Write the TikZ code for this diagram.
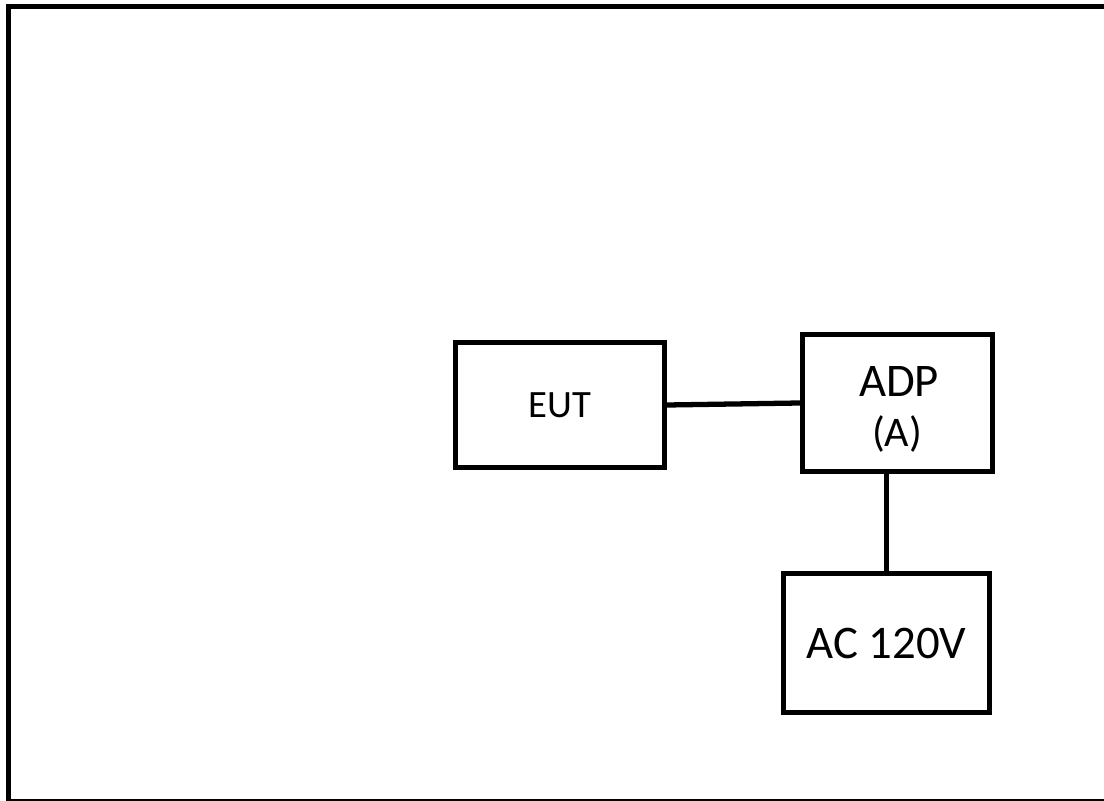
\documentclass[tikz,border=0pt]{standalone}
\usepackage{fontspec}
\setmainfont{Carlito}
\usepackage{tikz}
\usetikzlibrary{positioning}
\tikzset{
	wire/.append style={
		line width=1.5pt,
	},
	unit/.append style={
		draw,
		line width=1.5pt,
		align = center,
		inner sep=0mm,
		font={\fontsize{11}{13}\selectfont},
	},
	bigtext/.append style={
		font={\fontsize{13.3}{15}\selectfont},
	},
	smalltext/.append style={
		inner sep=0mm,
		font={\fontsize{12}{14}\selectfont},
	}
}

\begin{document}
\begin{tikzpicture}[]

\useasboundingbox (0,0) rectangle (11.04,8);
\clip (0,0) rectangle (11.04,8);
% outer frame, cut off on the right
\draw[wire] (11.1,7.935) -- (0.085,7.935) -- (0.085,-0.015) -- (11.1,-0.015);

\node(eut)[unit, minimum width=20.9mm, minimum height=12.5mm] at (5.60,3.95) {EUT};
\node(adp)[unit, minimum width=19mm, minimum height=13.7mm] at (8.975,3.97) {};
\node(adpname)[bigtext, inner sep=0mm] at (8.99,4.18) {ADP};
\node(adpsub)[smalltext] at (8.97,3.66) {(A)};
\node(ac)[unit, bigtext, minimum width=20.6mm, minimum height=13.9mm] at (8.865,1.57) {AC 120V};

\draw[wire] (eut.east) -- (adp.west);
\draw[wire] (ac.north |- adp.south) -- (ac.north);

\end{tikzpicture}
\end{document}
